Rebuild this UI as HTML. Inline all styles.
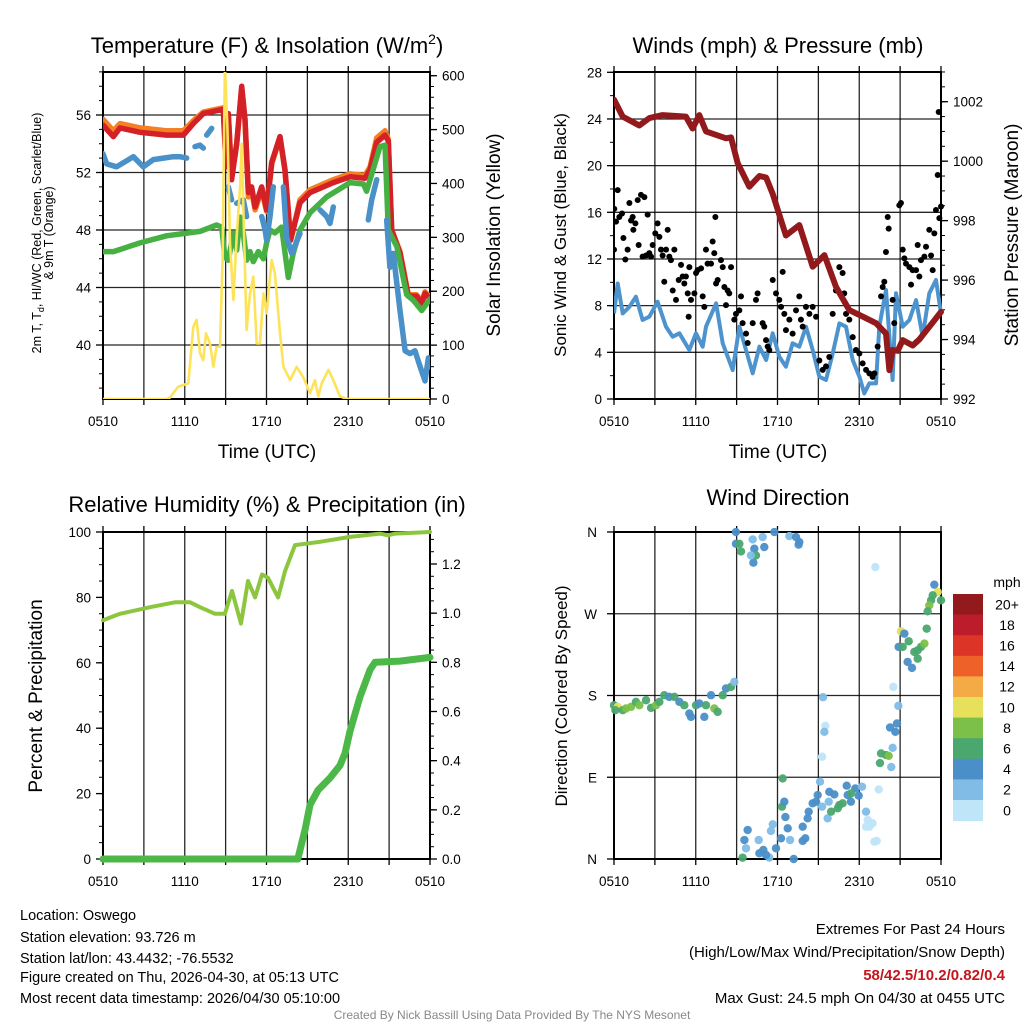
<!DOCTYPE html>
<html><head><meta charset="utf-8"><style>
html,body{margin:0;padding:0;background:#fff;}
svg{display:block;font-family:"Liberation Sans",sans-serif;}
</style></head><body>
<svg id="fig" width="1024" height="1024" viewBox="0 0 1024 1024" xmlns="http://www.w3.org/2000/svg">
<g id="texts" fill="#000">
<text x="267" y="53" font-size="22" text-anchor="middle">Temperature (F) &amp; Insolation (W/m<tspan dy="-9" font-size="14">2</tspan><tspan dy="9">)</tspan></text>
<text x="778" y="53" font-size="22" text-anchor="middle">Winds (mph) &amp; Pressure (mb)</text>
<text x="267" y="512" font-size="22" text-anchor="middle">Relative Humidity (%) &amp; Precipitation (in)</text>
<text x="778" y="505" font-size="22" text-anchor="middle">Wind Direction</text>
<text x="267" y="458" font-size="19" text-anchor="middle">Time (UTC)</text>
<text x="778" y="458" font-size="19" text-anchor="middle">Time (UTC)</text>
<text transform="translate(41,233) rotate(-90)" font-size="12.5" text-anchor="middle">2m T, T<tspan dy="3" font-size="9">d</tspan><tspan dy="-3">, HI/WC (Red, Green, Scarlet/Blue)</tspan></text>
<text transform="translate(53,233) rotate(-90)" font-size="12.5" text-anchor="middle">&amp; 9m T (Orange)</text>
<text transform="translate(500,235) rotate(-90)" font-size="19" text-anchor="middle">Solar Insolation (Yellow)</text>
<text transform="translate(566,235) rotate(-90)" font-size="17" text-anchor="middle">Sonic Wind &amp; Gust (Blue, Black)</text>
<text transform="translate(1018,235) rotate(-90)" font-size="19" text-anchor="middle">Station Pressure (Maroon)</text>
<text transform="translate(42,696) rotate(-90)" font-size="19" text-anchor="middle">Percent &amp; Precipitation</text>
<text transform="translate(567,696) rotate(-90)" font-size="17" text-anchor="middle">Direction (Colored By Speed)</text>
<text x="1007" y="587" font-size="14" text-anchor="middle">mph</text>
<g font-size="14.5">
<text x="20" y="920">Location: Oswego</text>
<text x="20" y="942">Station elevation: 93.726 m</text>
<text x="20" y="963">Station lat/lon: 43.4432; -76.5532</text>
<text x="20" y="982">Figure created on Thu, 2026-04-30, at 05:13 UTC</text>
<text x="20" y="1003">Most recent data timestamp: 2026/04/30 05:10:00</text>
</g>
<g font-size="15" text-anchor="end">
<text x="1005" y="934">Extremes For Past 24 Hours</text>
<text x="1005" y="957">(High/Low/Max Wind/Precipitation/Snow Depth)</text>
<text x="1005" y="980" fill="#c4161c" font-weight="bold">58/42.5/10.2/0.82/0.4</text>
<text x="1005" y="1003">Max Gust: 24.5 mph On 04/30 at 0455 UTC</text>
</g>
<text x="512" y="1019" font-size="12" fill="#888" text-anchor="middle">Created By Nick Bassill Using Data Provided By The NYS Mesonet</text>
</g>
</svg>
<script>
// ---------- data ----------
const xTickLabels = ["0510","1110","1710","2310","0510"];
const tempTicks = [40,44,48,52,56];
const solarTicks = [0,100,200,300,400,500,600];
const windTicks = [0,4,8,12,16,20,24,28];
const presTicks = [992,994,996,998,1000,1002];
const rhTicks = [0,20,40,60,80,100];
const precipTicks = [0.0,0.2,0.4,0.6,0.8,1.0,1.2];
const dirTickLabels = ["N","E","S","W","N"];
const speedBins = ["0","2","4","6","8","10","12","14","16","18","20+"];
const speedColors = ["#bfe5f8","#80bce6","#4a8fc8","#4aa76e","#7cc04a","#e6e05a","#f5ab45","#ee6229","#dc3427","#bd1d2a","#921a1c"];

const tempRed = [[0,55.3],[0.76,54.5],[1.25,55.1],[2.72,54.8],[4.67,54.6],[5.9,54.6],[6.63,55.4],[7.36,56.1],[8.83,56.4],[9.03,52.4],[9.2,56.1],[9.44,51.5],[9.81,54.0],[10.18,58.0],[10.42,55.7],[10.67,50.6],[10.91,51.0],[11.16,49.6],[11.65,51.0],[12.01,49.4],[12.38,52.7],[12.99,54.5],[13.36,52.2],[13.77,47.3],[14.46,49.9],[15.19,50.6],[16.9,51.3],[18.13,51.7],[19.23,51.6],[19.6,52.2],[20.09,54.1],[20.7,54.6],[20.94,54.2],[21.19,48.0],[21.8,46.4],[22.41,43.4],[23.02,43.4],[23.39,42.9],[23.63,43.6],[24,43.2]];
const tempOrange = [[0,55.7],[0.76,54.9],[1.25,55.4],[2.72,55.1],[4.67,54.9],[5.9,54.9],[6.63,55.6],[7.36,56.2],[8.83,56.5],[9.03,52.6],[9.2,56.1],[9.44,51.8],[9.81,54.0],[10.18,57.8],[10.42,55.6],[10.67,50.3],[10.91,50.7],[11.16,49.4],[11.65,50.8],[12.01,49.3],[12.38,52.6],[12.99,54.4],[13.36,52.1],[13.77,47.3],[14.46,50.1],[15.19,50.8],[16.9,51.5],[18.13,51.9],[19.23,51.8],[19.6,52.4],[20.09,54.4],[20.7,54.9],[20.94,54.3],[21.19,48.0],[21.8,46.5],[22.41,43.5],[23.02,43.5],[23.39,43.0],[23.63,43.7],[24,43.3]];
const tempGreen = [[0,46.5],[0.76,46.5],[2.72,47.1],[4.67,47.6],[7.12,47.9],[8.34,48.35],[8.71,48.2],[8.95,46.1],[9.2,45.9],[9.57,47.8],[9.81,46.6],[10.06,48.9],[10.3,47.8],[10.54,45.9],[10.79,46.5],[11.03,45.8],[11.4,46.5],[11.77,46.0],[12.01,47.1],[12.26,48.0],[12.62,47.8],[13.11,48.2],[13.6,44.7],[13.97,46.4],[14.46,48.0],[15.19,49.2],[16.42,50.3],[18.13,51.3],[19.11,51.2],[19.35,50.7],[20.33,53.8],[20.7,53.9],[20.94,48.0],[21.56,46.85],[22.29,43.5],[22.78,43.1],[23.39,42.4],[24,43.2]];
const tempBlue = [[0,53.3],[0.27,52.6],[1.0,52.4],[2.23,53.1],[2.96,52.4],[3.69,52.9],[4.43,53.0],[5.16,53.1],[5.65,53.1],[6.14,53.0],null,[6.75,53.8],[7.12,53.9],[7.36,53.7],null,[7.61,54.6],[7.98,55.07],null,[9.2,51.0],[9.44,50.1],null,[9.81,49.86],[10.3,50.1],[10.54,48.93],null,[11.65,48.93],[11.9,48.0],[12.01,47.3],[12.26,48.93],[12.5,51.0],null,[13.24,51.0],[13.48,47.5],[13.85,46.37],[14.46,47.76],null,[15.93,49.4],[16.42,48.93],[16.66,48.46],[16.9,49.6],null,[19.47,48.7],[19.72,50.1],[20.09,51.5],null,[20.82,48.7],[21.06,45.4],[21.31,46.37],[21.8,42.4],[22.17,39.6],[22.53,39.4],[22.9,39.6],[23.27,38.5],[23.63,37.5],[23.88,39.1],[24,38.5]];
const solar = [[0,0],[4.67,0],[4.92,3],[5.53,23],[6.26,29],[6.63,134],[6.87,147],[7.12,85],[7.36,72],[7.56,122],[7.85,103],[8.1,60],[8.34,97],[8.59,97],[8.78,258],[8.95,620],[9.13,505],[9.32,289],[9.57,184],[9.81,302],[10.06,394],[10.18,474],[10.35,308],[10.54,128],[10.79,196],[11.03,227],[11.28,103],[11.52,103],[11.77,196],[12.01,159],[12.26,227],[12.38,258],[12.62,233],[12.99,122],[13.24,60],[13.73,35],[14.22,60],[14.7,40],[15.19,11],[15.56,35],[15.8,5],[16.05,29],[16.54,54],[16.9,35],[17.39,5],[17.89,0],[24,0]];

const windHr = [0,0.27,0.64,1.13,1.61,2.1,2.59,3.2,3.82,4.31,4.8,5.53,6.02,6.51,6.75,7.49,7.98,8.71,9.2,9.69,10.18,10.67,11.16,11.65,12.13,12.62,13.11,13.6,14.09,14.58,15.07,15.56,16.05,16.54,17.03,17.52,18.01,18.37,18.74,19.23,19.47,19.96,20.45,20.7,21.19,21.68,22.17,22.65,23.14,23.63,24];
const windMph = [7.34,9.9,7.34,7.9,8.77,6.77,7.05,8.34,6.2,5.34,5.63,4.2,5.63,4.48,6.2,8.2,4.77,2.48,6.2,4.2,2.2,4.48,3.34,5.63,3.63,2.77,4.77,4.48,6.2,4.2,1.91,1.63,3.91,6.48,6.2,3.34,1.91,0.48,1.34,1.34,6.2,9.34,1.63,9.06,6.2,6.77,8.48,5.34,9.06,10.2,7.34];
const gustHr = [0.02,0,0.15,0.27,0.39,0.59,0.69,0.83,1.0,1.13,1.25,1.37,1.42,1.57,1.74,1.81,1.98,2.1,2.23,2.35,2.47,2.59,2.72,2.84,3.03,3.2,3.33,3.45,3.57,3.69,3.82,3.94,4.06,4.18,4.31,4.43,4.55,4.75,4.92,5.04,5.16,5.28,5.41,5.48,5.53,5.65,5.9,6.02,6.14,6.39,6.51,6.63,6.75,6.87,7.12,7.24,7.36,7.44,7.49,7.61,7.85,7.98,8.1,8.22,8.34,8.46,8.59,8.83,8.95,9.2,9.32,9.44,9.69,9.81,10.18,10.42,10.54,10.91,11.03,11.16,11.28,11.4,11.65,11.89,12.13,12.26,12.38,12.5,12.62,12.87,13.11,13.36,13.6,13.72,13.85,14.09,14.34,14.58,14.83,15.07,15.32,15.56,15.8,16.05,16.29,16.54,16.78,16.9,17.03,17.27,17.52,17.76,18.01,18.25,18.5,18.74,18.98,19.11,19.35,19.6,19.72,19.84,19.96,20.09,20.16,20.45,20.57,20.94,21.06,21.19,21.31,21.43,21.68,21.8,21.92,22.17,22.29,22.41,22.53,22.78,22.9,23.14,23.27,23.39,23.51,23.63,23.76,23.83,23.88,24.0];
const gustMph = [16.3,12.8,15.2,17.9,15.6,15.9,13.8,11.96,12.8,16.8,15.3,15.6,14.5,15.05,17.05,13.2,17.5,12.2,17.3,12.3,15.8,12.5,12.2,13.2,14.2,15.05,13.9,12.8,12.3,10.05,12.8,14.5,12.2,11.9,9.3,12.8,8.5,10.2,11.5,10.5,9.9,10.5,9.05,7.05,11.3,8.5,9.05,10.8,11.05,11.2,8.8,7.9,12.8,11.6,11.6,13.5,12.5,15.6,9.9,10.2,11.9,11.3,9.6,8.05,9.3,9.05,11.3,6.8,7.3,7.6,8.8,6.5,5.6,4.8,6.5,8.5,9.05,6.5,6.2,5.05,4.5,4.2,10.2,9.05,8.5,7.9,10.9,7.3,5.9,6.8,5.6,7.6,8.8,6.8,6.2,7.9,7.3,7.9,7.05,3.3,2.5,2.8,3.6,7.3,9.3,11.3,10.8,9.05,7.3,6.8,5.3,4.2,3.9,3.05,2.5,2.2,1.9,2.2,4.5,8.8,9.6,10.05,12.6,15.6,14.6,8.5,6.5,16.6,16.8,12.8,12.05,11.6,11.3,9.8,11.05,11.05,13.2,10.5,11.9,12.2,13.05,14.5,12.3,11.05,14.2,16.2,19.2,24.6,15.5,16.5];
const pressure = [[0,1002.07],[0.64,1001.5],[1.86,1001.2],[2.59,1001.45],[3.57,1001.55],[5.28,1001.5],[5.77,1001.1],[6.26,1001.55],[6.75,1001.0],[8.22,1000.77],[8.59,1000.8],[9.08,999.93],[9.93,999.14],[10.67,999.5],[11.16,999.45],[11.65,998.9],[12.62,997.5],[13.6,997.85],[14.58,996.45],[15.44,996.84],[16.29,995.77],[17.27,994.99],[18.25,994.77],[19.23,994.55],[19.96,994.2],[20.21,992.97],[20.45,993.65],[20.82,993.62],[21.19,993.98],[21.92,993.8],[22.41,994.0],[23.14,994.43],[24,994.93]];

const rh = [[0,73],[1.25,75],[3.45,77],[5.28,78.5],[6.39,78.5],[7.12,77],[8.22,75],[8.95,75],[9.47,82],[10.13,72],[10.64,85],[11.16,80],[11.67,87],[12.11,86],[12.85,80],[13.36,88],[14.09,96],[15.93,97],[18.13,98.5],[20.33,99.5],[20.92,99],[21.43,99.5],[24,100]];
const precip = [[0,0],[14.3,0],[14.83,0.12],[15.19,0.22],[15.78,0.28],[16.66,0.33],[17.39,0.38],[17.76,0.43],[18.13,0.52],[18.86,0.66],[19.6,0.77],[19.96,0.8],[21.8,0.805],[24,0.82]];

const dirHr = [0,0.27,0.1,0.64,0.88,1.25,1.61,1.86,2.35,2.72,3.08,3.33,3.69,4.06,4.43,4.8,5.16,5.53,5.65,6.02,6.26,6.63,6.75,7.12,7.36,7.61,7.98,8.22,8.59,8.83,
 8.95,8.95,9.2,9.32,10.18,10.3,10.42,10.23,10.05,10.91,11.03,11.77,12.87,13.36,13.6,13.55,
 19.18,23.51,23.76,24,23.39,23.27,23.14,23.02,21.06,21.31,20.89,21.19,21.63,22.04,22.29,22.53,22.78,22.95,21.55,21.87,22.29,
 20.5,20.87,20.77,20.26,20.65,20.45,19.6,19.96,20.16,19.52,20.35,19.43,15.34,15.51,15.44,15.27,12.38,
 12.33,12.5,12.58,11.65,11.52,9.81,9.57,9.69,9.44,10.62,10.96,11.4,11.16,10.67,11.89,12.26,12.75,12.92,13.19,13.85,14.04,13.85,14.21,14.29,14.58,14.83,14.95,15.12,15.27,15.8,15.76,16.17,16.42,16.54,16.78,17.08,17.15,17.39,17.71,17.96,18.2,18.5,18.62,18.74,18.5,18.98,19.11,19.28,15.68,15.93,17.39];
const dirDeg = [169.3,167.5,163.8,163.8,165.7,167.5,173,169.3,174.8,166.4,169.3,173,180.3,178.5,178.5,173,169.3,160.2,156.5,169.3,171.2,156.5,169.3,180.3,165.7,162,180.3,187.7,189.5,195,
 359.9,347,347,338.6,351.8,341.6,334.2,326.2,334.2,354.4,343.4,359.9,355.5,354.4,348.9,346,
 321.4,302,293.9,284.8,290.3,284.8,279.3,272.7,250.7,248.1,233.5,233.5,239.7,228,229.8,233.5,237.1,253.6,217,210.4,220.6,
 189.5,168.6,149.2,144.8,140,122.4,116.2,114.4,113.6,105.6,101.2,76.6,178.1,146.6,140,112.6,88.7,
 57.6,63.1,46.2,38.2,30.9,31.9,20.9,11.8,1.5,20.9,10,1.5,4.5,6.3,11.8,22.8,33.8,20.9,0,35.6,22.8,19.9,44.8,52.1,61.3,63.1,70.4,85.1,57.6,74,63.1,71.1,55.8,59.4,61.3,80.7,70.4,63.1,77.7,69.7,79.6,52.1,43,35.6,35.6,39.3,19.1,19.9,44.8,52.1,72.2];
const dirSpd = [6,10,6,6,8,8,6,8,6,6,8,6,6,4,6,4,6,4,4,6,4,4,6,4,8,6,6,4,6,2,
 4,4,6,6,2,4,6,4,2,2,4,4,2,4,4,4,
 0,4,10,6,6,6,8,6,10,4,4,6,6,6,6,6,8,6,4,4,6,
 0,2,4,4,4,2,6,6,8,6,2,0,2,0,2,0,6,
 6,4,4,2,2,4,4,2,6,2,4,2,4,4,4,4,4,2,4,4,4,4,4,4,4,4,4,2,2,4,2,4,6,6,6,4,4,4,4,4,2,2,0,0,0,0,0,0,2,6,6];

// ---------- drawing ----------
const NS = "http://www.w3.org/2000/svg";
const svg = document.getElementById('fig');
function mk(tag, attrs, parent){ const e=document.createElementNS(NS,tag); for(const k in attrs) e.setAttribute(k,attrs[k]); (parent||svg).appendChild(e); return e; }
function linX(x0,x1,v0,v1){ return v=> x0+(v-v0)/(v1-v0)*(x1-x0); }
function linY(y0,y1,v0,v1){ return v=> y0-(v-v0)/(v1-v0)*(y0-y1); }
function pathFrom(pts, fx, fy){ let d="", pen=false; for(const p of pts){ if(!p){pen=false;continue;} d+=(pen?"L":"M")+fx(p[0]).toFixed(1)+","+fy(p[1]).toFixed(1); pen=true;} return d; }

function frame(g, L,R,T,B, hGrid){
  for(let h=3; h<24; h+=3){ const x=L+(R-L)*h/24; const l=mk('line',{x1:x,x2:x,y1:T,y2:B,stroke:'#000','stroke-width':1.3,'stroke-opacity':0.85},g);
      }
  for(const y of hGrid){ const l=mk('line',{x1:L,x2:R,y1:y,y2:y,stroke:'#000','stroke-width':1.3,'stroke-opacity':0.85},g);
      }
  const r=mk('rect',{x:L,y:T,width:R-L,height:B-T,fill:'none',stroke:'#000','stroke-width':2},g);
   
  for(let h=0; h<=24; h+=3){ const x=L+(R-L)*h/24;
    mk('line',{x1:x,x2:x,y1:B,y2:B+6,stroke:'#000','stroke-width':1.3},g); mk('line',{x1:x,x2:x,y1:T,y2:T-6,stroke:'#000','stroke-width':1.3},g); }
  xTickLabels.forEach((s,i)=>{ const t=mk('text',{x:L+(R-L)*i/4,y:B+27,'font-size':13.5,'text-anchor':'middle'},g); t.textContent=s;
      });
}
function yTicks(g, x, side, ticks, fy, fmt, minorVals){
  const dir = side==='left'?-1:1;
  for(const v of minorVals){ mk('line',{x1:x,x2:x+dir*4,y1:fy(v),y2:fy(v),stroke:'#000','stroke-width':1},g); }
  for(const v of ticks){ const y=fy(v); mk('line',{x1:x,x2:x+dir*7,y1:y,y2:y,stroke:'#000','stroke-width':1.3},g);
    const t=mk('text',{x:x+dir*12,y:y+5,'font-size':13.5,'text-anchor':side==='left'?'end':'start'},g); t.textContent=fmt(v);
      }
}
function range(a,b,s){ const r=[]; for(let v=a; v<=b+1e-9; v+=s) r.push(+v.toFixed(3)); return r; }

// Panel 1: temperature & insolation
(function(){
  const L=103,R=430,T=72,B=399;
  const g=mk('g',{});  
  const fx=linX(L,R,0,24), fy=linY(115,345,56,40), fs=linY(399,75.7,0,600);
  const clip=mk('clipPath',{id:'c1'},g); mk('rect',{x:L,y:T,width:R-L,height:B-T},clip);
  frame(g,L,R,T,B,tempTicks.map(fy));
  yTicks(g,L,'left',tempTicks,fy,v=>String(v),range(37,59,1));
  yTicks(g,R,'right',solarTicks,fs,v=>String(v),range(0,600,20));
  const d=mk('g',{'clip-path':'url(#c1)'},g);
  const series=[[tempOrange,'#f47f24','orange-9m-temp-line'],[tempRed,'#d42027','red-temp-line'],[tempGreen,'#46b043','green-dewpoint-line'],[tempBlue,'#4a90c9','blue-hi-wc-line']];
  const pY=mk('path',{d:pathFrom(solar,fx,fs),fill:'none',stroke:'#fde35a','stroke-width':2.6,'stroke-linejoin':'round'},d);
   
  for(const [pts,c,n] of series){ const p=mk('path',{d:pathFrom(pts,fx,fy),fill:'none',stroke:c,'stroke-width':5.5,'stroke-linejoin':'round','stroke-linecap':'round'},d);
      }
  d.appendChild(pY);
})();

// Panel 2: winds & pressure
(function(){
  const L=614,R=941,T=72,B=399;
  const g=mk('g',{});  
  const fx=linX(L,R,0,24), fy=linY(399,72.3,0,28), fp=linY(399,101.7,992,1002);
  const clip=mk('clipPath',{id:'c2'},g); mk('rect',{x:L,y:T-4,width:R-L+4,height:B-T+4},clip);
  frame(g,L,R,T,B,windTicks.slice(1,-1).map(fy));
  yTicks(g,L,'left',windTicks,fy,v=>String(v),range(0,28,2));
  yTicks(g,R,'right',presTicks,fp,v=>String(v),range(992,1003,0.5));
  const d=mk('g',{'clip-path':'url(#c2)'},g);
  const wp=mk('path',{d:pathFrom(windHr.map((h,i)=>[h,windMph[i]]),fx,fy),fill:'none',stroke:'#4d94cf','stroke-width':4,'stroke-linejoin':'round'},d);
   
  gustHr.forEach((h,i)=>{ const c=mk('circle',{cx:fx(h),cy:fy(gustMph[i]),r:3,fill:'#000'},d);
      });
  const pp=mk('path',{d:pathFrom(pressure,fx,fp),fill:'none',stroke:'#921a1c','stroke-width':6,'stroke-linejoin':'round','stroke-linecap':'round'},d);
   
})();

// Panel 3: RH & precip
(function(){
  const L=103,R=430,T=532,B=859;
  const g=mk('g',{});  
  const fx=linX(L,R,0,24), fy=linY(859,532,0,100), fp=linY(859,564,0,1.2);
  frame(g,L,R,T,B,[]);
  yTicks(g,L,'left',rhTicks,fy,v=>String(v),range(0,100,5));
  yTicks(g,R,'right',precipTicks,fp,v=>v.toFixed(1),range(0,1.3,0.05));
  const p1=mk('path',{d:pathFrom(precip,fx,fp),fill:'none',stroke:'#4cb848','stroke-width':7,'stroke-linejoin':'round','stroke-linecap':'round'},g);
   
  const p2=mk('path',{d:pathFrom(rh,fx,fy),fill:'none',stroke:'#8cc63f','stroke-width':4,'stroke-linejoin':'round','stroke-linecap':'round'},g);
   
})();

// Panel 4: wind direction
(function(){
  const L=614,R=941,T=532,B=859;
  const g=mk('g',{});  
  const fx=linX(L,R,0,24), fy=linY(859,532,0,360);
  frame(g,L,R,T,B,[fy(90),fy(180),fy(270)]);
  dirTickLabels.forEach((s,i)=>{ const y=fy(i*90); mk('line',{x1:L,x2:L-7,y1:y,y2:y,stroke:'#000','stroke-width':1.3},g);
    const t=mk('text',{x:L-17,y:y+5,'font-size':13.5,'text-anchor':'end'},g); t.textContent=s;
      });
  dirHr.forEach((h,i)=>{ const c=mk('circle',{cx:fx(h),cy:fy(dirDeg[i]),r:4.2,fill:speedColors[Math.min(10,Math.floor(dirSpd[i]/2))],'fill-opacity':0.95},g);
      });
  // colorbar
  const cb=mk('g',{},g);  
  const top=594, bh=20.6;
  speedBins.slice().reverse().forEach((lab,j)=>{ const idx=speedBins.length-1-j; const y=top+j*bh;
    const r=mk('rect',{x:953,y:y,width:30,height:bh+0.5,fill:speedColors[idx]},cb);
     
    const t=mk('text',{x:1007,y:y+bh/2+5,'font-size':14,'text-anchor':'middle'},cb); t.textContent=lab;
      });
})();
</script>
</body></html>
